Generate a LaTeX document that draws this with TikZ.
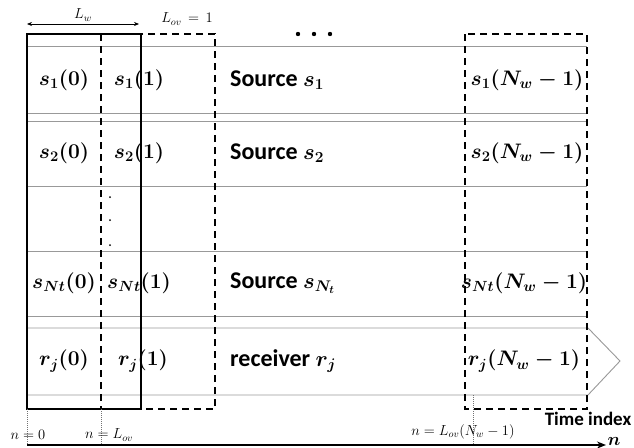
\RequirePackage{fix-cm}
\documentclass[tikz,border=0pt]{standalone}
\usepackage[no-math]{fontspec}
\usepackage{amsmath,bm}
\newfontfamily\carlito{Carlito}
\usetikzlibrary{arrows.meta}
\begin{document}
\begin{tikzpicture}[x=1pt,y=-1pt,
  rowline/.style={draw=black!40,line width=0.9pt},
  winbox/.style={draw=black,line width=1.8pt},
  dwinbox/.style={draw=black,line width=1.6pt,dash pattern=on 7pt off 5pt},
  cell/.style={inner sep=0pt,font=\fontsize{21}{25}\selectfont\boldmath},
  lab/.style={inner sep=0pt,anchor=west,font=\fontsize{24}{28}\selectfont\carlito\bfseries},
  smalllab/.style={inner sep=0pt,font=\fontsize{14.5}{16}\selectfont},
  guide/.style={draw=black!55,line width=0.6pt,dash pattern=on 1pt off 1pt}]

\useasboundingbox (0,0) rectangle (634,447);

% rows
\draw[rowline] (27,46) -- (587,46) (27,113) -- (587,113);
\draw[rowline] (27,121) -- (587,121) (27,186) -- (587,186);
\draw[rowline] (27,251) -- (587,251) (27,316) -- (587,316);
\draw[rowline] (27,328) -- (588,328) -- (620,361) -- (588,395) -- (27,395);

% windows
\draw[dwinbox] (101,34) rectangle (215,409);
\draw[dwinbox] (465,34) rectangle (587,409);
\draw[winbox] (27,34) rectangle (141,409);

% L_w arrow
\coordinate (lwL) at (27,24);
\coordinate (lwR) at (139,24);
\draw[line width=0.7pt,{Stealth[length=5pt,width=4pt]}-{Stealth[length=5pt,width=4pt]}] (lwL) -- (lwR);
\node[smalllab] (lw) at (83,15) {$L_w$};
\node[smalllab] (lov) at (187,19) {$L_{ov}\,=\,1$};

% ellipsis dots
\fill (298,34) circle[radius=2.2pt];
\fill (314,34) circle[radius=2.2pt];
\fill (330,34) circle[radius=2.2pt];

% vertical dots
\fill (110,197) circle[radius=1pt];
\fill (110,220) circle[radius=1pt];
\fill (110,245) circle[radius=1pt];

% row 1
\node[cell] (s10) at (64,80) {$s_1(0)$};
\node[cell] (s11) at (139,80) {$s_1(1)$};
\node[lab] (src1) at (230,80) {Source {\fontsize{22}{26}\selectfont\boldmath$s_1$}};
\node[cell] (s1N) at (527,80) {$s_1(N_w-1)$};

% row 2
\node[cell] (s20) at (64,153) {$s_2(0)$};
\node[cell] (s21) at (139,153) {$s_2(1)$};
\node[lab] (src2) at (230,153) {Source {\fontsize{22}{26}\selectfont\boldmath$s_2$}};
\node[cell] (s2N) at (527,153) {$s_2(N_w-1)$};

% row Nt
\node[cell] (sN0) at (64,283) {$s_{Nt}(0)$};
\node[cell] (sN1) at (139,283) {$s_{Nt}(1)$};
\node[lab] (srcN) at (230,283) {Source {\fontsize{22}{26}\selectfont\boldmath$s_{N_t}$}};
\node[cell] (sNN) at (524,283) {$s_{Nt}(N_w-1)$};

% receiver
\node[cell] (r0) at (64,361) {$r_j(0)$};
\node[cell] (r1) at (143,361) {$r_j(1)$};
\node[lab] (rec) at (230,361) {receiver {\fontsize{22}{26}\selectfont\boldmath$r_j$}};
\node[cell] (rN) at (524,361) {$r_j(N_w-1)$};

% guides
\coordinate (g0a) at (27,409); \coordinate (g0b) at (27,447);
\coordinate (g1a) at (101,409); \coordinate (g1b) at (101,447);
\coordinate (g2a) at (473,395); \coordinate (g2b) at (473,447);
\draw[guide] (g0a) -- (g0b);
\draw[guide] (g1a) -- (g1b);
\draw[guide] (g2a) -- (g2b);
\node[smalllab] (n0) at (28,435) {$n=0$};
\node[smalllab] (n1) at (109,435) {$n=L_{ov}$};
\node[smalllab] (n2) at (463,432) {$n=L_{ov}(N_w-1)$};

% time axis
\coordinate (ax0) at (27,445);
\coordinate (ax1) at (606,445);
\draw[line width=1.8pt,-{Stealth[length=9pt,width=7pt]}] (ax0) -- (ax1);
\node[inner sep=0pt,font=\fontsize{19}{21}\selectfont\carlito\bfseries] (ti) at (588,419) {Time index};
\node[inner sep=0pt,font=\fontsize{18}{20}\selectfont\boldmath] (tn) at (614,441) {$n$};
\end{tikzpicture}
\end{document}
